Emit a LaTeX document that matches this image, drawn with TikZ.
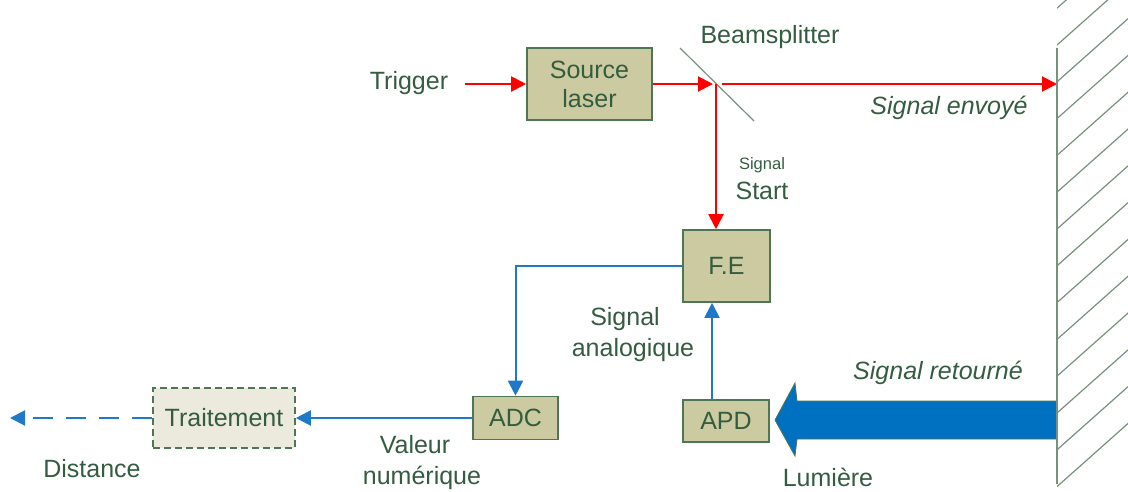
\documentclass[tikz,border=0pt]{standalone}
\usepackage{fontspec}
\setmainfont{Liberation Sans}
\usetikzlibrary{arrows.meta}
\definecolor{txtc}{RGB}{52,92,64}
\definecolor{boxc}{RGB}{78,118,86}
\definecolor{boxfill}{RGB}{204,202,160}
\definecolor{lightfill}{RGB}{236,234,220}
\definecolor{redc}{RGB}{255,0,0}
\definecolor{bluec}{RGB}{31,120,200}
\definecolor{bigblue}{RGB}{0,112,192}
\definecolor{wallc}{RGB}{120,145,125}
\tikzset{
  lbl/.style={text=txtc, font=\fontsize{25}{31}\selectfont, inner sep=0pt, align=center},
  smalllbl/.style={text=txtc, font=\fontsize{16.5}{19}\selectfont, inner sep=0pt},
  blk/.style={draw=boxc, fill=boxfill, line width=1.6pt, inner sep=0pt, align=center, text=txtc, font=\fontsize{25}{29}\selectfont},
  redarr/.style={draw=redc, line width=2pt, -{Triangle[length=15pt,width=15pt]}},
  bluearr/.style={draw=bluec, line width=2pt, -{Triangle[length=15pt,width=15pt]}},
}
\begin{document}
\begin{tikzpicture}[x=1pt,y=-1pt]
\useasboundingbox (0,0) rectangle (1128,491);
% nodes
\node[blk, minimum width=125pt, minimum height=72pt] (src) at (589.5,84) {Source\\laser};
\node[blk, minimum width=87pt, minimum height=72pt] (fe) at (726.5,266) {F.E};
\node[blk, minimum width=85pt, minimum height=43pt] (adc) at (515.5,418) {ADC};
\node[blk, minimum width=86pt, minimum height=42pt] (apd) at (726,421) {APD};
\node[blk, fill=lightfill, dashed, dash pattern=on 7pt off 4pt, minimum width=142pt, minimum height=60pt] (trt) at (224,418) {Traitement};
% labels
\node[lbl] (trig) at (409,83) {Trigger};
\node[lbl] (bsl) at (770,37) {Beamsplitter};
\node[lbl, font=\fontsize{25}{29}\selectfont\itshape] (env) at (949,108) {Signal envoyé};
\node[smalllbl] (sig1) at (762,165) {Signal};
\node[lbl] (sig2) at (762,191) {Start};
\node[lbl] (ana) at (625,335) {Signal\\\hspace*{16pt}analogique};
\node[lbl, font=\fontsize{25}{29}\selectfont\itshape] (ret) at (938,373) {Signal retourné};
\node[lbl] (lum) at (828,477) {Lumière};
\node[lbl] (val) at (415,463) {Valeur\\\hspace*{14pt}numérique};
\node[lbl] (dist) at (92,469) {Distance};
% coordinates
\coordinate (trigin) at (465,84);
\coordinate (bs) at (716,84);
\coordinate (bsr) at (722,84);
\coordinate (wallhit) at (1057,84);
\coordinate (bs1) at (680,48);
\coordinate (bs2) at (754,121);
\coordinate (out) at (10,418);
% beamsplitter
\draw[wallc, line width=1.2pt] (bs1) -- (bs2);
% red
\draw[redarr] (trigin) -- (src.west);
\draw[redarr, shorten >=3pt] (src.east) -- (bs);
\draw[redarr] (bsr) -- (wallhit);
\draw[redarr] (bs) -- (fe.north -| bs);
% blue
\draw[bluearr] (fe.west) -- (fe.west -| adc.north) -- (adc.north);
\draw[bluearr] (apd.north -| 712,0) -- (fe.south -| 712,0);
\draw[bluearr] (adc.west) -- (trt.east);
\draw[bluearr, dash pattern=on 20pt off 13pt] (trt.west) -- (out);
% big arrow
\filldraw[fill=bigblue, draw=boxc, line width=0.8pt] (775,420) -- (795,383) -- (797,401) -- (1057,401) -- (1057,439) -- (797,439) -- (795,456) -- cycle;
% wall
\begin{scope}
\clip (1057,0) rectangle (1128,491);
\foreach \k in {-1,...,12} {
  \draw[wallc, line width=1.2pt] (1057,{45+36.8*\k}) -- ++(90,-80);
}
\end{scope}
\draw[wallc, line width=2pt] (1057,48) -- (1057,484);
\end{tikzpicture}
\end{document}
